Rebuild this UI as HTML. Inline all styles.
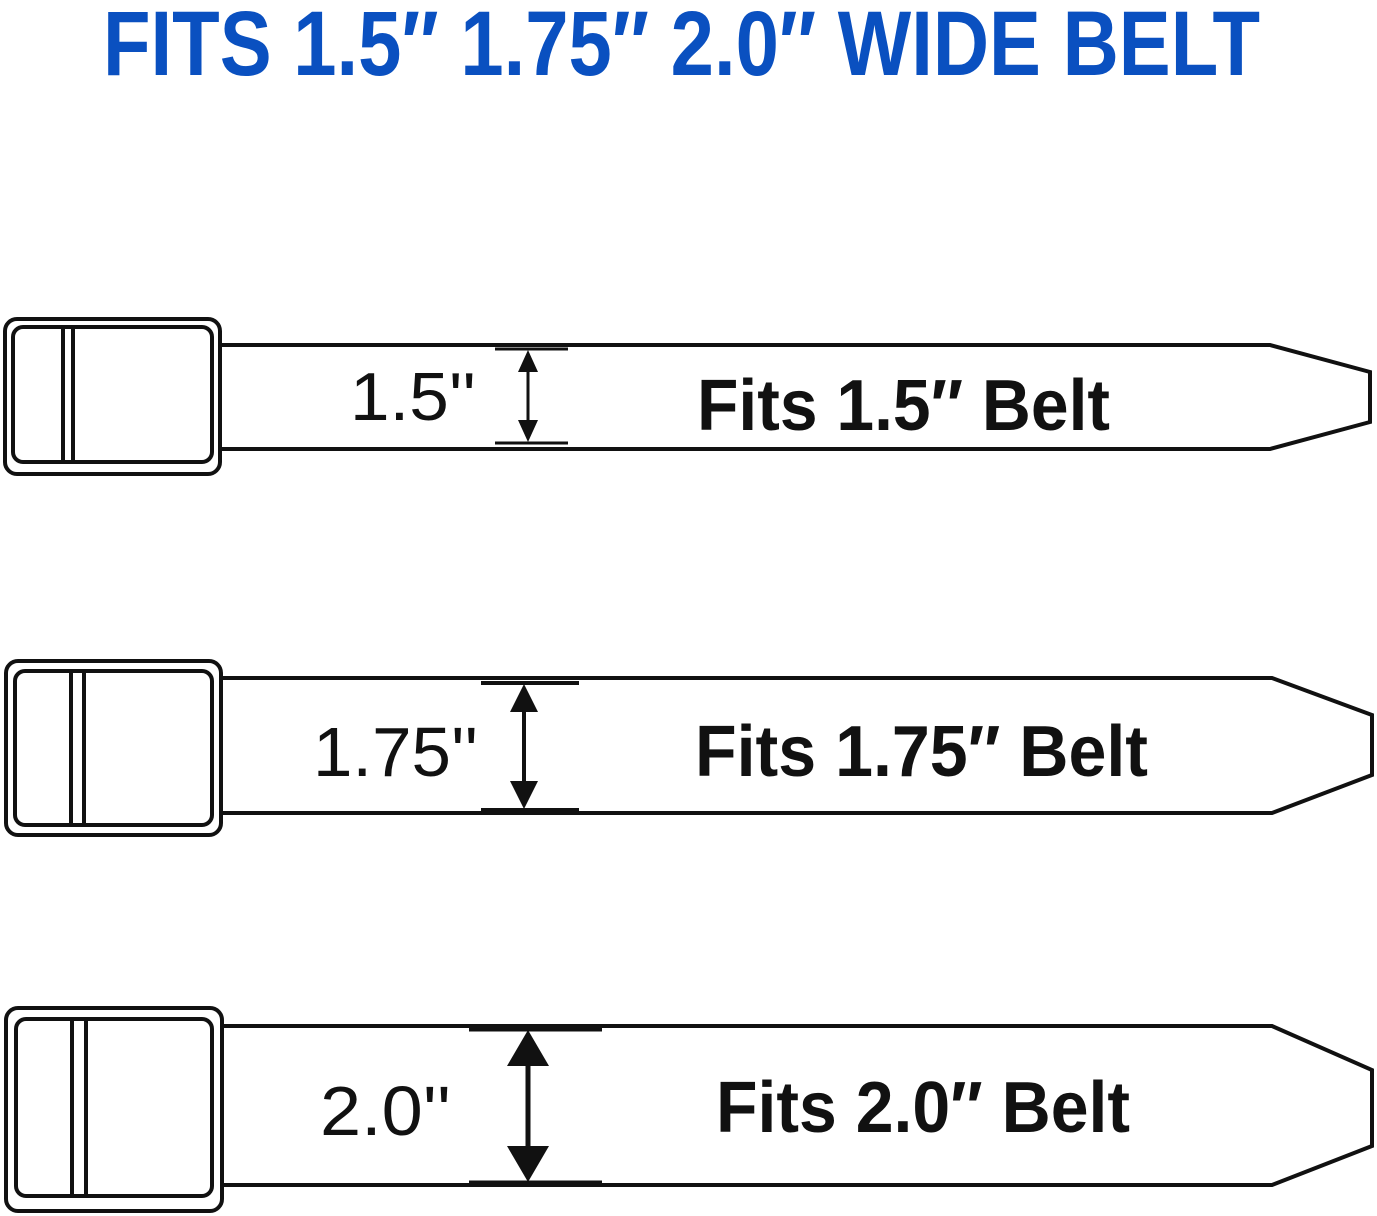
<!DOCTYPE html>
<html><head><meta charset="utf-8"><style>
html,body{margin:0;padding:0;background:#fff;}
svg{display:block;}
</style></head><body>
<svg width="1377" height="1216" viewBox="0 0 1377 1216" xmlns="http://www.w3.org/2000/svg">
<text x="103" y="75" font-family="Liberation Sans, sans-serif" font-weight="bold" font-size="92" fill="#0a50c0" textLength="1157" lengthAdjust="spacingAndGlyphs">FITS 1.5″ 1.75″ 2.0″ WIDE BELT</text>

<g fill="none" stroke="#111" stroke-width="4" stroke-linejoin="miter">
<!-- belt 1 -->
<polyline points="220,345 1270,345 1370,372 1370,422 1270,449 220,449"/>
<rect x="5" y="319" width="215" height="155" rx="12"/>
<rect x="13" y="327" width="199" height="135" rx="10"/>
<line x1="63" y1="327" x2="63" y2="462"/>
<line x1="73" y1="327" x2="73" y2="462"/>
<!-- belt 2 -->
<polyline points="221,678 1272,678 1372,715 1372,775 1272,813 221,813"/>
<rect x="6" y="661" width="215" height="174" rx="12"/>
<rect x="15" y="671" width="197" height="154" rx="10"/>
<line x1="71" y1="671" x2="71" y2="825"/>
<line x1="84" y1="671" x2="84" y2="825"/>
<!-- belt 3 -->
<polyline points="222,1026 1272,1026 1372,1070 1372,1146 1272,1185 222,1185"/>
<rect x="6" y="1008" width="216" height="203" rx="12"/>
<rect x="16" y="1019" width="196" height="177" rx="10"/>
<line x1="72" y1="1019" x2="72" y2="1196"/>
<line x1="86" y1="1019" x2="86" y2="1196"/>
</g>

<g stroke="#111" fill="#111">
<line x1="495" y1="349" x2="568" y2="349" stroke-width="3"/>
<line x1="495" y1="443" x2="568" y2="443" stroke-width="3"/>
<line x1="528" y1="360" x2="528" y2="432" stroke-width="3"/>
<polygon points="528,350 518,372 538,372" stroke="none"/>
<polygon points="528,442 518,420 538,420" stroke="none"/>

<line x1="481" y1="683" x2="579" y2="683" stroke-width="4"/>
<line x1="481" y1="810" x2="579" y2="810" stroke-width="4"/>
<line x1="524" y1="700" x2="524" y2="792" stroke-width="4"/>
<polygon points="524,684 510,712 538,712" stroke="none"/>
<polygon points="524,809 510,781 538,781" stroke="none"/>

<line x1="469" y1="1029" x2="602" y2="1029" stroke-width="5"/>
<line x1="469" y1="1183" x2="602" y2="1183" stroke-width="5"/>
<line x1="528" y1="1050" x2="528" y2="1160" stroke-width="5"/>
<polygon points="528,1030 507,1066 549,1066" stroke="none"/>
<polygon points="528,1182 507,1146 549,1146" stroke="none"/>
</g>

<g font-family="Liberation Sans, sans-serif" fill="#111">
<text x="350" y="420" font-size="68" textLength="126" lengthAdjust="spacingAndGlyphs">1.5''</text>
<text x="313" y="776" font-size="70" textLength="165" lengthAdjust="spacingAndGlyphs">1.75''</text>
<text x="320" y="1135" font-size="70" textLength="131" lengthAdjust="spacingAndGlyphs">2.0''</text>
<g font-weight="bold">
<text x="697" y="430" font-size="72" textLength="413" lengthAdjust="spacingAndGlyphs">Fits 1.5″ Belt</text>
<text x="695" y="776" font-size="72" textLength="453" lengthAdjust="spacingAndGlyphs">Fits 1.75″ Belt</text>
<text x="716" y="1132" font-size="72" textLength="414" lengthAdjust="spacingAndGlyphs">Fits 2.0″ Belt</text>
</g>
</g>
</svg>
</body></html>
